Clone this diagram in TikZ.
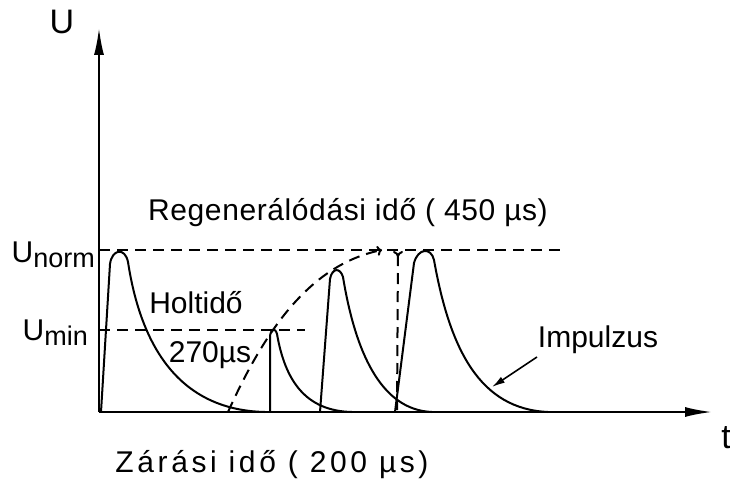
\documentclass[tikz,border=0pt]{standalone}
\usepackage{fontspec}
\setmainfont{Liberation Sans}
\usetikzlibrary{arrows.meta}
\begin{document}
\begin{tikzpicture}[x=1pt,y=-1pt,
  curve/.style={line width=2pt, line join=round},
  axis/.style={line width=2pt, -{Latex[length=27pt,width=10pt]}},
  dashln/.style={line width=2pt, dash pattern=on 11pt off 7pt},
  lbl/.style={inner sep=0pt, font=\fontsize{30}{32}\selectfont}]
\useasboundingbox (0,0) rectangle (730,495);
% axes
\coordinate (O) at (99,412);
\coordinate (Ytip) at (99,28);
\coordinate (Xtip) at (712,412);
\draw[axis] (O) -- (Ytip);
\draw[axis] (O) -- (Xtip);
% reference levels
\coordinate (Nl) at (99,250);
\coordinate (Nr) at (560,250);
\coordinate (Ml) at (99,330);
\coordinate (Mr) at (305,330);
\draw[dashln] (Nl) -- (Nr);
\draw[dashln] (Ml) -- (Mr);
% pulses
\draw[curve] (101,412) -- (110,264) .. controls (112,249) and (125,247) .. (128,262)
  .. controls (140,340) and (175,410) .. (265,412);
\draw[curve] (270,412) -- (270,336) .. controls (271,329) and (275,327) .. (277,334)
  .. controls (285,380) and (305,411) .. (352,412);
\draw[curve] (320,412) -- (330,279) .. controls (332,268) and (340,267) .. (343,277)
  .. controls (355,350) and (380,410) .. (432,412);
\draw[curve] (395,412) -- (414,263) .. controls (418,248) and (431,247) .. (434,260)
  .. controls (450,350) and (480,409) .. (548,412);
% recovery curve
\coordinate (Rs) at (228,412);
\coordinate (Re) at (382,250);
\draw[dashln, -{To[length=5pt,width=10pt]}] (Rs) .. controls (265,330) and (310,265) .. (Re);
\coordinate (Vt) at (398,251);
\coordinate (Vb) at (397,412);
\draw[dashln, {To[reversed,length=6pt,width=10pt]}-] (Vt) -- (Vb);
% labels
\node[lbl, font=\fontsize{34}{36}\selectfont] (U) at (62,22) {U};
\node[lbl, font=\fontsize{34}{36}\selectfont] (t) at (726,438) {t};
\node[lbl, anchor=east] (Unorm) at (95,255) {U\raisebox{-5pt}{\fontsize{27}{29}\selectfont norm}};
\node[lbl, anchor=east] (Umin) at (88,333) {U\raisebox{-5pt}{\fontsize{27}{29}\selectfont min}};
\node[lbl] (holt) at (196,303) {Holtidő};
\node[lbl] (t270) at (210,355) {270µs};
\node[lbl, font=\fontsize{30}{32}\selectfont\addfontfeature{LetterSpace=2}] (reg) at (348,213) {Regenerálódási idő ( 450 µs)};
\node[lbl, font=\fontsize{30}{32}\selectfont\addfontfeature{LetterSpace=12}] (zar) at (272,465) {Zárási idő ( 200 µs)};
\node[lbl] (imp) at (598,340) {Impulzus};
\coordinate (Ip) at (492,387);
\draw[line width=1.6pt, -{Latex[length=13pt,width=7pt]}] (537,357) -- (Ip);
\end{tikzpicture}
\end{document}
